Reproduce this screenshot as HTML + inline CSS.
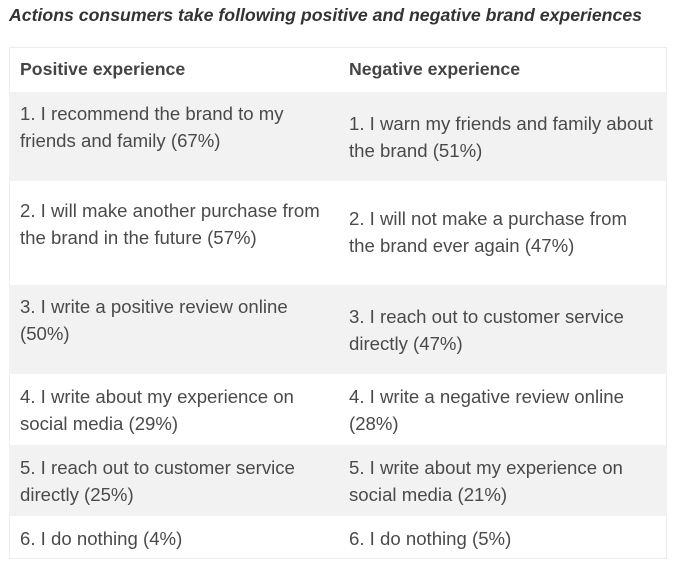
<!DOCTYPE html>
<html><head><meta charset="utf-8"><style>
body{margin:0;width:674px;height:573px;background:#fff;position:relative;font-family:"Liberation Sans",sans-serif;color:#4a4a4a;overflow:hidden}
.t{position:absolute;left:9px;font-style:italic;font-weight:bold;font-size:17.7px;color:#333;top:5px;white-space:nowrap}
.tbl{position:absolute;left:9px;top:47px;width:658px;height:512px;border:1px solid #ececec;box-sizing:border-box}
.r{position:absolute;left:9px;width:658px}
.g{background:#f2f2f2}
.l{position:absolute;font-size:18.6px;line-height:27px;white-space:nowrap}
.h{font-weight:bold;color:#444;font-size:17.7px}
</style></head><body>
<div class="t">Actions consumers take following positive and negative brand experiences</div>
<div class="tbl"></div>
<div class="r g" style="top:92px;height:89px"></div>
<div class="r g" style="top:285px;height:89px"></div>
<div class="r g" style="top:445px;height:71px"></div>

<div class="l h" style="left:20px;top:56px">Positive experience</div>
<div class="l h" style="left:349px;top:56px">Negative experience</div>

<div class="l" style="left:20px;top:100px">1. I recommend the brand to my<br>friends and family (67%)</div>
<div class="l" style="left:349px;top:110px">1. I warn my friends and family about<br>the brand (51%)</div>

<div class="l" style="left:20px;top:197px">2. I will make another purchase from<br>the brand in the future (57%)</div>
<div class="l" style="left:349px;top:205px">2. I will not make a purchase from<br>the brand ever again (47%)</div>

<div class="l" style="left:20px;top:293px">3. I write a positive review online<br>(50%)</div>
<div class="l" style="left:349px;top:303px">3. I reach out to customer service<br>directly (47%)</div>

<div class="l" style="left:20px;top:383px">4. I write about my experience on<br>social media (29%)</div>
<div class="l" style="left:349px;top:383px">4. I write a negative review online<br>(28%)</div>

<div class="l" style="left:20px;top:454px">5. I reach out to customer service<br>directly (25%)</div>
<div class="l" style="left:349px;top:454px">5. I write about my experience on<br>social media (21%)</div>

<div class="l" style="left:20px;top:525px">6. I do nothing (4%)</div>
<div class="l" style="left:349px;top:525px">6. I do nothing (5%)</div>
</body></html>
